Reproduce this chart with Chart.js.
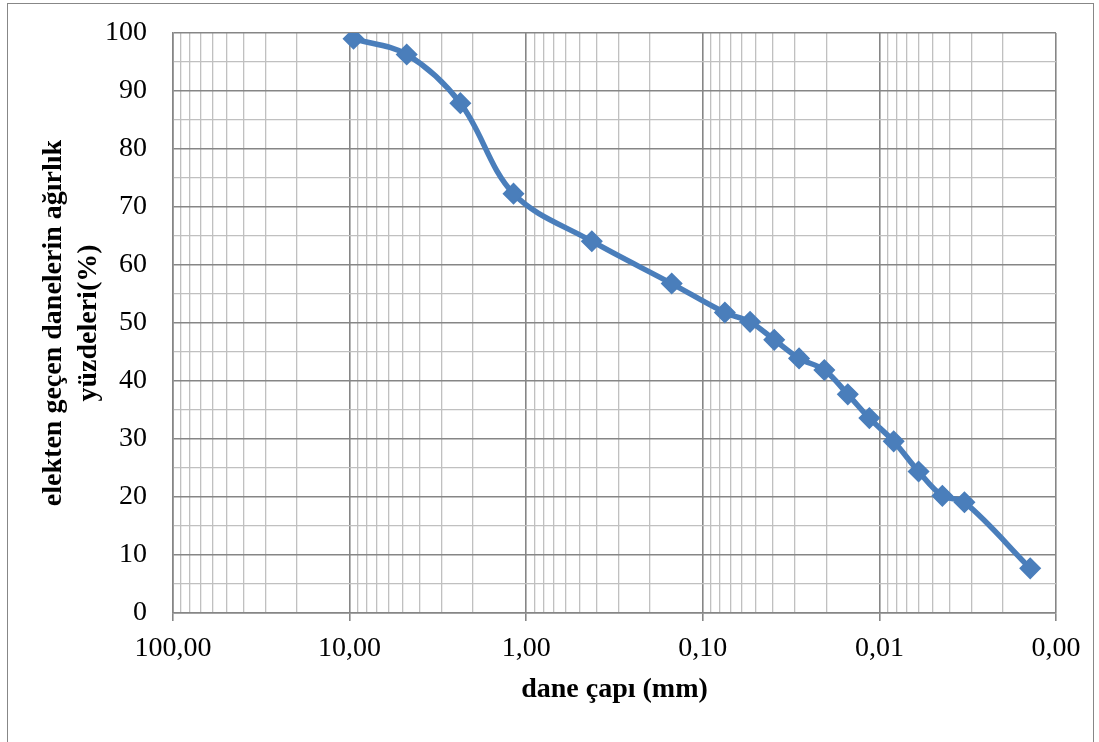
<!DOCTYPE html>
<html>
<head>
<meta charset="utf-8">
<script src="https://cdn.jsdelivr.net/npm/chart.js@4/dist/chart.umd.min.js"></script>
<style>
  html, body { margin: 0; padding: 0; background: #fff; overflow: hidden; }
  #frame { position: absolute; left: 7px; top: 3px; width: 1085px; height: 800px; border: 1px solid #878787; }
  #c { position: absolute; left: 0; top: 0; }
</style>
</head>
<body>
<div id="frame"></div>
<canvas id="c" width="1099" height="742"></canvas>
<script>
// grain size (mm)
const grainSize = [9.5, 4.75, 2.36, 1.18, 0.425, 0.15, 0.075, 0.054, 0.0394, 0.0285, 0.0205, 0.0151, 0.0114, 0.0083, 0.0060, 0.0044, 0.0033, 0.0014];
// percent passing
const percentPassing = [99.0, 96.3, 87.9, 72.3, 64.1, 56.8, 51.8, 50.2, 47.1, 43.9, 41.9, 37.7, 33.6, 29.6, 24.4, 20.2, 19.1, 7.7];

const xDecades = [100, 10, 1, 0.1, 0.01, 0.001];
const xDecadeLabels = ['100,00', '10,00', '1,00', '0,10', '0,01', '0,00'];
const xMinorMultipliers = [2, 3, 4, 5, 6, 7, 8, 9];

const yMin = 0, yMax = 100, yMinorStep = 5, yMajorStep = 10;

const xTitle = 'dane çapı (mm)';
const yTitle = ['elekten geçen danelerin ağırlık', 'yüzdeleri(%)'];

const MAJOR = '#868686';
const MINOR = '#c0c0c0';
const BLUE = '#4a7ebb';
const FONT = '"Liberation Serif", "Times New Roman", serif';

function decadeIndex(v) {
  for (let i = 0; i < xDecades.length; i++) {
    if (Math.abs(Math.log10(v) - Math.log10(xDecades[i])) < 1e-6) return i;
  }
  return -1;
}

const xGridValues = [];
xDecades.forEach((d, i) => {
  xGridValues.push(d);
  if (i > 0) xMinorMultipliers.forEach(m => xGridValues.push(m * d));
});

const points = grainSize.map((s, i) => ({ x: s, y: percentPassing[i] }));

new Chart(document.getElementById('c'), {
  type: 'line',
  data: {
    datasets: [{
      data: points,
      borderColor: BLUE,
      backgroundColor: BLUE,
      borderWidth: 5.5,
      tension: 0.35,
      pointStyle: 'rectRot',
      pointRadius: 10,
      pointBorderWidth: 1.5,
      pointBorderColor: BLUE,
      pointBackgroundColor: BLUE,
      fill: false
    }]
  },
  options: {
    responsive: false,
    animation: false,
    devicePixelRatio: 1,
    layout: { padding: { left: 0, top: 33, right: 43, bottom: 29 } },
    plugins: { legend: { display: false }, tooltip: { enabled: false } },
    scales: {
      x: {
        type: 'logarithmic',
        reverse: true,
        min: 0.001,
        max: 100,
        afterBuildTicks: (scale) => { scale.ticks = xGridValues.map(v => ({ value: v })); },
        afterFit: (scale) => { scale.height = 100; },
        border: { color: MAJOR, width: 1.5 },
        grid: {
          color: (ctx) => (ctx.tick && decadeIndex(ctx.tick.value) >= 0) ? MAJOR : MINOR,
          lineWidth: (ctx) => (ctx.tick && decadeIndex(ctx.tick.value) >= 0) ? 1.6 : 1.3,
          tickColor: (ctx) => (ctx.tick && decadeIndex(ctx.tick.value) >= 0) ? MAJOR : 'rgba(0,0,0,0)',
          tickLength: 8,
          drawTicks: true
        },
        ticks: {
          autoSkip: false,
          maxRotation: 0,
          minRotation: 0,
          padding: 11,
          color: '#000',
          font: { family: FONT, size: 28 },
          callback: (v) => { const i = decadeIndex(v); return i >= 0 ? xDecadeLabels[i] : ''; }
        },
        title: {
          display: true,
          text: xTitle,
          color: '#000',
          font: { family: FONT, size: 28, weight: 'bold', lineHeight: 1.2 },
          padding: { top: 0, bottom: 6 }
        }
      },
      y: {
        type: 'linear',
        min: yMin,
        max: yMax,
        afterFit: (scale) => { scale.width = 173; },
        border: { color: MAJOR, width: 1.5 },
        grid: {
          color: (ctx) => (ctx.tick && ctx.tick.value % yMajorStep === 0) ? MAJOR : MINOR,
          lineWidth: (ctx) => (ctx.tick && ctx.tick.value % yMajorStep === 0) ? 1.6 : 1.3,
          drawTicks: true,
          tickLength: 23,
          tickColor: 'rgba(0,0,0,0)'
        },
        ticks: {
          stepSize: yMinorStep,
          autoSkip: false,
          padding: 3,
          color: '#000',
          font: { family: FONT, size: 28 },
          callback: (v) => (v % yMajorStep === 0) ? String(v) : ''
        },
        title: {
          display: true,
          text: yTitle,
          color: '#000',
          font: { family: FONT, size: 28, weight: 'bold', lineHeight: 1.25 },
          padding: { top: 36, bottom: 0 }
        }
      }
    }
  }
});
</script>
</body>
</html>
